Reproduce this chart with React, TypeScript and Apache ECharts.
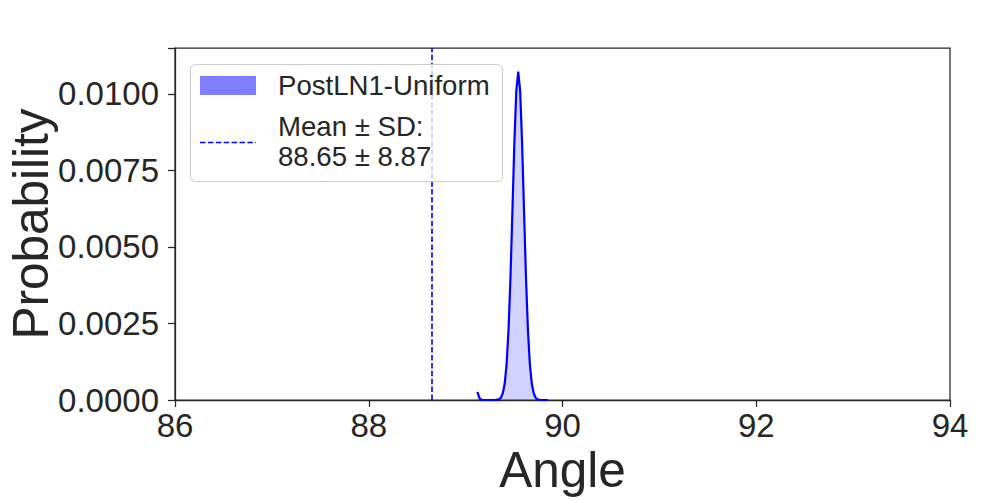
import React, { useEffect, useRef } from "react";
import * as echarts from "echarts";

// KDE curve (angle -> probability)
const kdeX = [89.12, 89.13, 89.14, 89.15, 89.16, 89.18, 89.22, 89.27, 89.31, 89.343, 89.363, 89.383, 89.403, 89.423, 89.443, 89.463, 89.483, 89.503, 89.523, 89.543, 89.563, 89.583, 89.603, 89.623, 89.643, 89.663, 89.683, 89.703, 89.723, 89.743, 89.763, 89.8, 89.85];
const kdeY = [0.00026, 0.00019, 0.00009, 0.00003, 0.00001, 0, 0, 0, 0.000003, 0.000023, 0.000073, 0.00021, 0.00053, 0.00117, 0.0023, 0.00401, 0.00617, 0.00839, 0.01009, 0.01073, 0.01009, 0.00839, 0.00617, 0.00401, 0.0023, 0.00117, 0.00053, 0.00021, 0.000073, 0.000023, 0.000006, 0, 0];

const seriesName = "PostLN1-Uniform";
const meanValue = 88.65;
const sdValue = 8.87;
const xTicks = [86, 88, 90, 92, 94];
const yTicks = [0, 0.0025, 0.005, 0.0075, 0.01];

const FONT = "'Liberation Sans', Arial, sans-serif";
const INK = "#262626";

export default function App() {
  const ref = useRef<HTMLDivElement>(null);
  useEffect(() => {
    if (!ref.current) return;
    const chart = echarts.init(ref.current, undefined, { renderer: "svg" });
    const data = kdeX.map((x, i) => [x, kdeY[i]]);
    chart.setOption({
      animation: false,
      backgroundColor: "#ffffff",
      grid: {
        left: 175,
        right: 50,
        top: 48,
        bottom: 100,
        containLabel: false,
        outerBoundsMode: "none",
        show: true,
        borderColor: INK,
        borderWidth: 1.25,
        backgroundColor: "transparent",
      },
      xAxis: {
        type: "value",
        min: xTicks[0],
        max: xTicks[xTicks.length - 1],
        interval: 2,
        name: "Angle",
        nameLocation: "middle",
        nameGap: 44,
        nameMoveOverlap: false,
        nameTextStyle: { fontFamily: FONT, fontSize: 49.5, color: INK },
        axisLine: { show: true, onZero: false, lineStyle: { color: INK, width: 1.25 } },
        axisTick: { show: true, length: 7, lineStyle: { color: INK, width: 1.25 } },
        axisLabel: { fontFamily: FONT, fontSize: 33, color: INK, margin: 9 },
        splitLine: { show: false },
      },
      yAxis: {
        type: "value",
        min: 0,
        max: 0.0115,
        interval: 0.0025,
        name: "Probability",
        nameLocation: "middle",
        nameGap: 120,
        nameMoveOverlap: false,
        nameTextStyle: { fontFamily: FONT, fontSize: 49.5, color: INK },
        axisLine: { show: true, lineStyle: { color: INK, width: 1.25 } },
        axisTick: { show: true, length: 7, lineStyle: { color: INK, width: 1.25 } },
        axisLabel: {
          fontFamily: FONT,
          fontSize: 33,
          color: INK,
          margin: 16,
          formatter: (v: number) =>
            yTicks.some((t) => Math.abs(t - v) < 1e-9) ? v.toFixed(4) : "",
        },
        splitLine: { show: false },
      },
      series: [
        {
          name: seriesName,
          type: "line",
          data,
          showSymbol: false,
          symbol: "none",
          lineStyle: { color: "#0000ff", width: 2.2 },
          areaStyle: { color: "rgba(0,0,255,0.25)", origin: "start" },
          markLine: {
            silent: true,
            symbol: "none",
            label: { show: false },
            lineStyle: { color: "#0000ff", width: 1.6, type: [5.5, 2.4] },
            data: [{ xAxis: meanValue }],
          },
        },
      ],
      graphic: [
        {
          type: "rect",
          z: 100,
          shape: { x: 190.5, y: 64.5, width: 312, height: 117, r: 5 },
          style: { fill: "rgba(255,255,255,0.8)", stroke: "#cccccc", lineWidth: 1 },
        },
        {
          type: "rect",
          z: 101,
          shape: { x: 200, y: 76, width: 56, height: 19 },
          style: { fill: "rgba(0,0,255,0.5)" },
        },
        {
          type: "line",
          z: 101,
          shape: { x1: 200, y1: 142.5, x2: 256, y2: 142.5 },
          style: { stroke: "#0000ff", lineWidth: 1.6, lineDash: [5.5, 2.4] },
        },
        {
          type: "text",
          z: 101,
          x: 278,
          y: 85,
          style: { text: seriesName, font: `27.6px ${FONT}`, fill: INK, verticalAlign: "middle", align: "left" },
        },
        {
          type: "text",
          z: 101,
          x: 278,
          y: 126,
          style: { text: "Mean ± SD:", font: `27.6px ${FONT}`, fill: INK, verticalAlign: "middle", align: "left" },
        },
        {
          type: "text",
          z: 101,
          x: 278,
          y: 156,
          style: {
            text: `${meanValue.toFixed(2)} ± ${sdValue.toFixed(2)}`,
            font: `27.6px ${FONT}`,
            fill: INK,
            verticalAlign: "middle",
            align: "left",
          },
        },
      ],
    });
    return () => chart.dispose();
  }, []);
  return <div ref={ref} style={{ width: 1000, height: 500, position: "absolute", left: 0, top: 0 }} />;
}
